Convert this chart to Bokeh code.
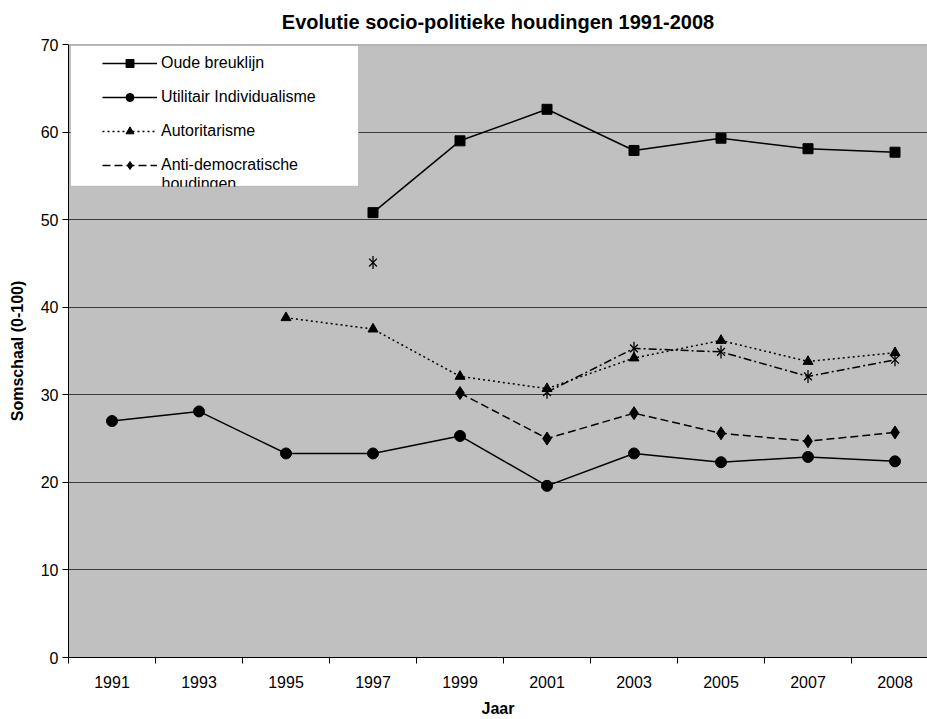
import math
from bokeh.plotting import figure
from bokeh.models import (FixedTicker, Legend, LegendItem, BoxAnnotation, Label, Span, Range1d, Title)
from bokeh.embed import file_html
from bokeh.resources import INLINE

nan = float("nan")

years = ["1991", "1993", "1995", "1997", "1999", "2001", "2003", "2005", "2007", "2008"]
oude_breuklijn = [nan, nan, nan, 50.8, 59.0, 62.6, 57.9, 59.3, 58.1, 57.7]
utilitair = [27.0, 28.1, 23.3, 23.3, 25.3, 19.6, 23.3, 22.3, 22.9, 22.4]
autoritarisme = [nan, nan, 38.8, 37.5, 32.1, 30.7, 34.2, 36.2, 33.8, 34.8]
anti_democratisch = [nan, nan, nan, nan, 30.2, 25.0, 27.9, 25.6, 24.7, 25.7]
vijfde_reeks = [nan, nan, nan, 45.1, nan, 30.3, 35.3, 34.9, 32.1, 34.0]
y_ticks = [0, 10, 20, 30, 40, 50, 60, 70]

xs = list(range(len(years)))
FONT = "Liberation Sans"

W, H = 927, 719
LEFT, TOP, BOTTOM = 68, 44, 61
px_x = 87.0
px_y = (H - TOP - BOTTOM) / 70.0
x_end = (W - LEFT) / px_x - 0.5

p = figure(width=W, height=H, output_backend="svg", toolbar_location=None,
           x_range=Range1d(-0.5, x_end), y_range=Range1d(0, 70),
           min_border_left=LEFT, min_border_right=0, min_border_top=TOP, min_border_bottom=BOTTOM,
           title="Evolutie socio-politieke houdingen 1991-2008")

p.background_fill_color = "#C0C0C0"
p.border_fill_color = "white"
p.outline_line_color = None

p.title.text_font = FONT
p.title.text_font_size = "20px"
p.title.text_font_style = "bold"
p.title.align = "center"
p.title.text_color = "black"
p.title.standoff = 8
# small empty spacer between title and plot area
p.add_layout(Title(text=" ", text_font_size="6px", standoff=0), "above")

# axes
p.xaxis.ticker = FixedTicker(ticks=xs, minor_ticks=[i - 0.5 for i in range(len(years) + 1)])
p.xaxis.major_label_overrides = {i: y for i, y in enumerate(years)}
p.xaxis.major_tick_out = 0
p.xaxis.major_tick_in = 0
p.xaxis.minor_tick_out = 6
p.xaxis.minor_tick_in = 0
p.xaxis.minor_tick_line_color = "black"
p.xaxis.major_label_standoff = 12
p.xaxis.axis_label = "Jaar"
p.xaxis.axis_label_standoff = 9

p.yaxis.ticker = FixedTicker(ticks=y_ticks, minor_ticks=[])
p.yaxis.major_tick_out = 6
p.yaxis.major_tick_in = 0
p.yaxis.major_label_standoff = 4
p.yaxis.axis_label = "Somschaal (0-100)"
p.yaxis.axis_label_standoff = 12

for ax in (p.xaxis[0], p.yaxis[0]):
    ax.axis_line_color = "black"
    ax.axis_line_width = 1
    ax.major_tick_line_color = "black" if ax is p.yaxis[0] else None
    ax.major_label_text_font = FONT
    ax.major_label_text_font_size = "16px"
    ax.major_label_text_color = "black"
    ax.axis_label_text_font = FONT
    ax.axis_label_text_font_size = "16px"
    ax.axis_label_text_font_style = "bold"
    ax.axis_label_text_color = "black"

p.xgrid.grid_line_color = None
p.ygrid.ticker = FixedTicker(ticks=[10, 20, 30, 40, 50, 60])
p.ygrid.grid_line_color = "#3c3c3c"
p.ygrid.grid_line_width = 1

p.add_layout(Span(location=70, dimension="width", line_color="#8a8a8a", line_width=1.5))

# series
LW = 1.5
l1 = p.line(xs, oude_breuklijn, line_color="black", line_width=LW)
m1 = p.scatter(xs, oude_breuklijn, marker="square", size=10, fill_color="black", line_color="black")
l2 = p.line(xs, utilitair, line_color="black", line_width=LW)
m2 = p.scatter(xs, utilitair, marker="circle", size=11, fill_color="black", line_color="black")
l3 = p.line(xs, autoritarisme, line_color="black", line_width=LW, line_dash="2 3")
m3 = p.scatter(xs, autoritarisme, marker="triangle", size=10, fill_color="black", line_color="black")
l4 = p.line(xs, anti_democratisch, line_color="black", line_width=LW, line_dash="8 4")
m4 = p.scatter(xs, anti_democratisch, marker="diamond", size=13, fill_color="black", line_color="black")
l5 = p.line(xs, vijfde_reeks, line_color="black", line_width=LW, line_dash="8 3 2 3")
m5a = p.scatter(xs, vijfde_reeks, marker="x", size=11, line_color="black", line_width=1.3)
m5b = p.scatter(xs, vijfde_reeks, marker="dash", size=13, angle=math.pi / 2,
                line_color="black", line_width=1.3)

# legend box (white, clipped at bottom like the original)
box_left = -0.5 + 2 / px_x
box_right = -0.5 + 290 / px_x
box_top = 70 - 1 / px_y
box_bottom = 70 - 142 / px_y
p.add_layout(BoxAnnotation(left=box_left, right=box_right, top=box_top, bottom=box_bottom,
                           fill_color="white", fill_alpha=1.0, line_color="#707070", line_width=1))

legend = Legend(items=[
    LegendItem(label="Oude breuklijn", renderers=[l1, m1]),
    LegendItem(label="Utilitair Individualisme", renderers=[l2, m2]),
    LegendItem(label="Autoritarisme", renderers=[l3, m3]),
    LegendItem(label="Anti-democratische", renderers=[l4, m4]),
], location=(34, 482), orientation="vertical",
    background_fill_alpha=0, border_line_color=None,
    padding=0, margin=0, spacing=14, glyph_width=55, glyph_height=20, label_height=20,
    label_standoff=4, label_text_font=FONT, label_text_font_size="16px", label_text_color="black")
p.add_layout(legend, "center")

p.add_layout(Label(x=-0.5 + 93 / px_x, y=70 - 139 / px_y, text="houdingen", text_font=FONT,
                   text_font_size="16px", text_color="black", text_baseline="middle"))
p.add_layout(BoxAnnotation(left=box_left - 0.01, right=box_right + 0.01,
                           top=box_bottom - 0.6 / px_y, bottom=box_bottom - 18 / px_y,
                           fill_color="#C0C0C0", fill_alpha=1.0, line_color=None))

open("out.html", "w").write(file_html(p, INLINE))
